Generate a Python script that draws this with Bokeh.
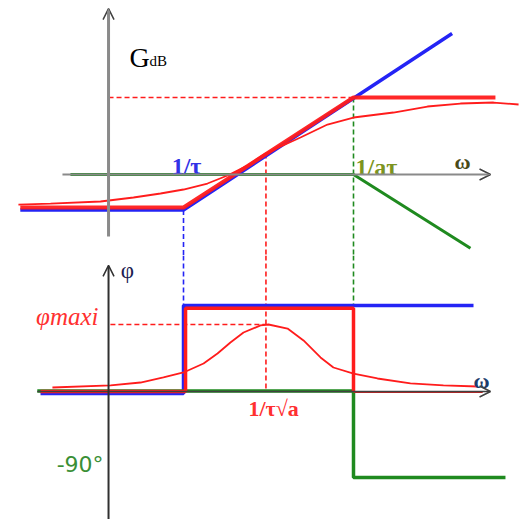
from bokeh.plotting import figure
from bokeh.layouts import column
from bokeh.models import Range1d, Arrow, OpenHead
from bokeh.core.properties import value
from bokeh.embed import file_html
from bokeh.resources import INLINE

# Phase-lead compensator: asymptotic and real Bode diagrams.
# x is log10(w*tau): 1/tau at 0, 1/(a*tau) at 1, 1/(tau*sqrt(a)) in between.
w_tau = 0.0
w_atau = 1.0
w_center = 0.485

# ---- gain (dB) ----
blue_gain_x = [-0.96, 0.0, 1.58]
blue_gain_db = [-6.4, -6.4, 25.4]

green_gain_x = [-0.665, 1.0, 1.688]
green_gain_db = [0.0, 0.0, -13.3]

red_gain_x = [-0.96, 0.0, 1.0, 1.835]
red_gain_db = [-5.95, -5.95, 13.87, 13.87]

gain_curve_x = [-0.971, -0.782, -0.488, -0.294, -0.135, 0.0, 0.141, 0.259, 0.376,
                0.482, 0.688, 0.847, 1.0, 1.235, 1.435, 1.629, 1.824, 1.971]
gain_curve_db = [-5.41, -5.23, -4.86, -4.14, -3.42, -2.70, -1.62, -0.18, 1.62,
                 3.78, 6.67, 9.0, 10.27, 11.17, 12.25, 12.79, 12.97, 12.61]

gain_high_db = 13.87
gain_center_db = 3.78

# ---- phase (degrees) ----
blue_phase_x = [-0.841, 0.0, 0.0, 1.706]
blue_phase_deg = [-2.0, -2.0, 90.0, 90.0]

green_phase_x = [-0.86, 1.0, 1.0, 1.894]
green_phase_deg = [0.5, 0.5, -90.0, -90.0]

red_phase_x = [-0.841, 0.012, 0.012, 1.0, 1.0]
red_phase_deg = [0.0, 0.0, 87.0, 87.0, 0.0]
red_tail_x = [1.0, 1.76]
red_tail_deg = [-0.5, -0.5]

phase_curve_x = [-0.771, -0.429, -0.253, -0.118, 0.0, 0.118, 0.2, 0.276, 0.353,
                 0.453, 0.5, 0.612, 0.706, 0.806, 0.882, 1.0, 1.141, 1.335, 1.529, 1.729]
phase_curve_deg = [4.2, 6.3, 9.4, 14.7, 19.9, 29.3, 39.8, 51.3, 61.7,
                   69.1, 70.1, 65.9, 53.4, 35.6, 25.1, 18.8, 13.6, 8.4, 6.3, 5.2]

phi_max_deg = 70.1

BLUE = "#2424f5"
RED = "#ff1c1c"
GREEN = "#1f8a1f"
SERIF = value("Liberation Serif")
DASH = "5 3"
DASH_W = 1.6

x_range = Range1d(-1.0765, 2.0118)


def make_panel(height, y_lo, y_hi):
    p = figure(width=525, height=height, x_range=x_range, y_range=Range1d(y_lo, y_hi),
               x_axis_type=None, y_axis_type=None, output_backend="svg",
               toolbar_location=None, min_border=0)
    p.outline_line_color = None
    p.background_fill_color = "white"
    p.border_fill_color = "white"
    return p


# ================= gain panel =================
top = make_panel(255, -14.59, 31.35)
t_lo = top.y_range.start

# axes
top.add_layout(Arrow(end=OpenHead(size=11, line_color="#404040", line_width=1.5),
                     x_start=-0.712, y_start=0, x_end=1.806, y_end=0,
                     line_color="#8a8a8a", line_width=2))
top.add_layout(Arrow(end=OpenHead(size=11, line_color="#404040", line_width=1.5),
                     x_start=-0.441, y_start=-11.17, x_end=-0.441, y_end=29.9,
                     line_color="#8a8a8a", line_width=3))

# dashed guides
top.line([-0.441, w_atau], [gain_high_db, gain_high_db], line_color=RED,
         line_width=DASH_W, line_dash=DASH)
top.segment(x0=[w_tau], y0=[blue_gain_db[0]], x1=[w_tau], y1=[t_lo],
            line_color=BLUE, line_width=DASH_W, line_dash=DASH)
top.segment(x0=[w_center], y0=[gain_center_db], x1=[w_center], y1=[t_lo],
            line_color=RED, line_width=DASH_W, line_dash=DASH)
top.segment(x0=[w_atau], y0=[gain_high_db], x1=[w_atau], y1=[t_lo],
            line_color=GREEN, line_width=DASH_W, line_dash=DASH)

# asymptotes and real curve
top.line(green_gain_x, green_gain_db, line_color=GREEN, line_width=3)
top.line(blue_gain_x, blue_gain_db, line_color=BLUE, line_width=3.5)
top.line(red_gain_x, red_gain_db, line_color=RED, line_width=4, line_alpha=0.95)
top.line(gain_curve_x, gain_curve_db, line_color=RED, line_width=1.8)

# labels
top.text(x=[-0.318], y=[21.1], text=["G"], text_font=SERIF, text_font_size="28px",
         text_color="black", text_baseline="alphabetic")
top.text(x=[-0.2], y=[20.4], text=["dB"], text_font=SERIF, text_font_size="15px",
         text_color="black", text_baseline="alphabetic")
top.text(x=[0.018], y=[1.6], text=["1/τ"], text_font=SERIF, text_font_size="24px",
         text_font_style="bold", text_color="#3232e6", text_align="center",
         text_baseline="alphabetic")
top.text(x=[1.012], y=[1.3], text=["1/aτ"], text_font=SERIF, text_font_size="24px",
         text_font_style="bold", text_color="#7c9420", text_align="left",
         text_baseline="alphabetic")
top.text(x=[1.641], y=[2.4], text=["ω"], text_font=SERIF, text_font_size="22px",
         text_font_style="bold", text_color="#4a4a18", text_align="center",
         text_baseline="alphabetic")

# ================= phase panel =================
bot = make_panel(264, -133.95, 142.3)
b_hi = bot.y_range.end
b_lo = bot.y_range.start

# axes
bot.add_layout(Arrow(end=OpenHead(size=11, line_color="#404040", line_width=1.5),
                     x_start=-0.86, y_start=0, x_end=1.806, y_end=0,
                     line_color="#404040", line_width=1.5))
bot.add_layout(Arrow(end=OpenHead(size=11, line_color="#303030", line_width=1.5),
                     x_start=-0.441, y_start=b_lo, x_end=-0.441, y_end=131.9,
                     line_color="#303030", line_width=2))

# dashed guides
bot.segment(x0=[w_tau], y0=[b_hi], x1=[w_tau], y1=[90.0],
            line_color=BLUE, line_width=DASH_W, line_dash=DASH)
bot.segment(x0=[w_center], y0=[b_hi], x1=[w_center], y1=[0.0],
            line_color=RED, line_width=DASH_W, line_dash=DASH)
bot.segment(x0=[w_atau], y0=[b_hi], x1=[w_atau], y1=[90.0],
            line_color=GREEN, line_width=DASH_W, line_dash=DASH)
bot.line([-0.43, w_center], [phi_max_deg, phi_max_deg], line_color=RED,
         line_width=DASH_W, line_dash=DASH)

# asymptotes and real curve
bot.line(blue_phase_x, blue_phase_deg, line_color=BLUE, line_width=3.5)
bot.line(green_phase_x, green_phase_deg, line_color=GREEN, line_width=3.5)
bot.line(red_tail_x, red_tail_deg, line_color="#c82020", line_width=2)
bot.line(red_phase_x, red_phase_deg, line_color=RED, line_width=3.5)
bot.line(phase_curve_x, phase_curve_deg, line_color=RED, line_width=1.8)

# labels
bot.text(x=[-0.33], y=[126.5], text=["φ"], text_font=SERIF, text_font_size="23px",
         text_color="#1c1c50", text_align="center", text_baseline="middle")
bot.text(x=[-0.5], y=[78.5], text=["φmaxi"], text_font=SERIF, text_font_size="25px",
         text_font_style="italic", text_color="#ff3030", text_align="right",
         text_baseline="middle")
bot.text(x=[0.53], y=[-17.5], text=["1/τ√a"], text_font=SERIF, text_font_size="22px",
         text_font_style="bold", text_color="#ff3030", text_align="center",
         text_baseline="middle")
bot.text(x=[-0.47], y=[-76.5], text=["-90°"], text_font=value("DejaVu Sans"),
         text_font_size="22px", text_color="#3a8f35", text_align="right",
         text_baseline="middle")
bot.text(x=[1.753], y=[11.5], text=["ω"], text_font=SERIF, text_font_size="22px",
         text_font_style="bold", text_color="#1c3c6c", text_align="center",
         text_baseline="middle")

layout = column(top, bot, spacing=0)
open("out.html", "w").write(file_html(layout, INLINE))
